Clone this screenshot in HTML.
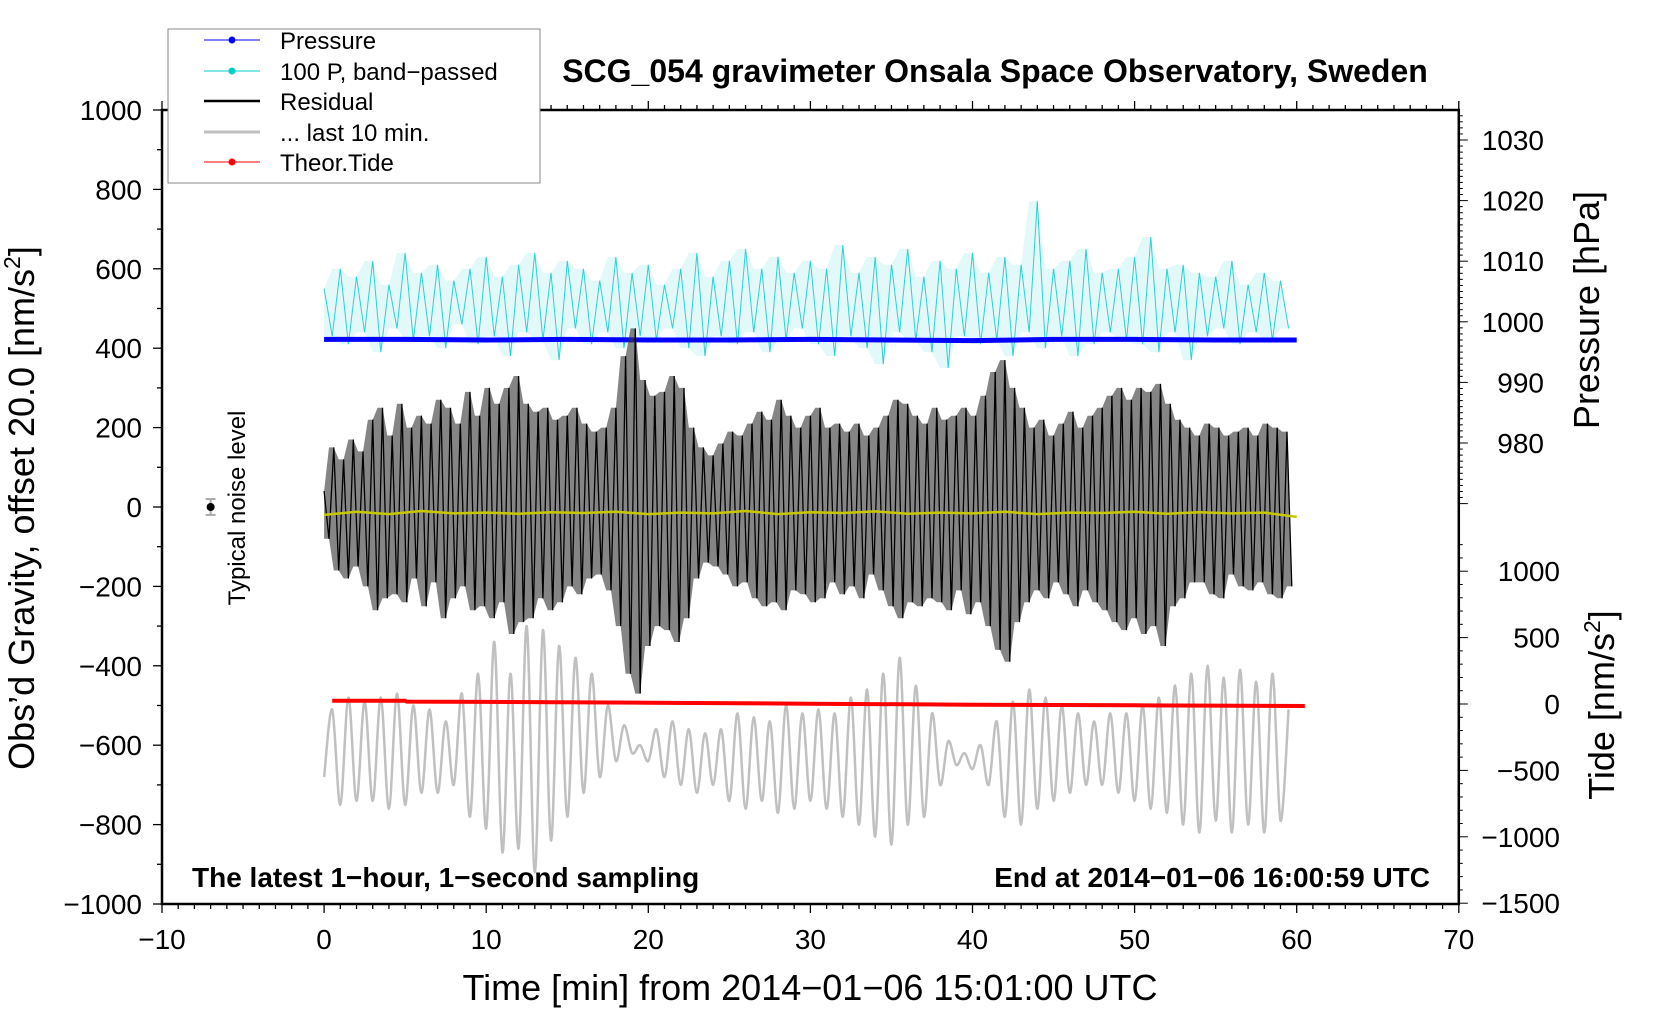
<!DOCTYPE html>
<html><head><meta charset="utf-8"><style>
html,body{margin:0;padding:0;background:#fff}
svg{display:block;font-family:"Liberation Sans",sans-serif}
</style></head><body>
<svg id="chart" width="1660" height="1020" viewBox="0 0 1660 1020" xmlns="http://www.w3.org/2000/svg">
<g id="marks"></g>
<g id="axes"></g>
<text x="995" y="82" font-size="32" font-weight="bold" text-anchor="middle">SCG_054 gravimeter Onsala Space Observatory, Sweden</text>
<text x="192" y="887" font-size="28" font-weight="bold">The latest 1−hour, 1−second sampling</text>
<text x="1430" y="887" font-size="28" font-weight="bold" text-anchor="end">End at 2014−01−06 16:00:59 UTC</text>
<text transform="translate(34,508) rotate(-90)" font-size="36" text-anchor="middle">Obs’d Gravity, offset 20.0 [nm/s<tspan dy="-14" font-size="23">2</tspan><tspan dy="14">]</tspan></text>
<text x="810" y="1000" font-size="36" text-anchor="middle">Time [min] from 2014−01−06 15:01:00 UTC</text>
<text transform="translate(1599,310) rotate(-90)" font-size="36" text-anchor="middle">Pressure [hPa]</text>
<text transform="translate(1614,705) rotate(-90)" font-size="36" text-anchor="middle">Tide [nm/s<tspan dy="-14" font-size="23">2</tspan><tspan dy="14">]</tspan></text>
<text transform="translate(245,508) rotate(-90)" font-size="24" text-anchor="middle">Typical noise level</text>
<g>
<rect x="168" y="29" width="372" height="154" fill="#fff" stroke="#888" stroke-width="1"/>
<g><line x1="204" y1="40" x2="260" y2="40" stroke="#0000ff" stroke-width="1"/><circle cx="232" cy="40" r="3.5" fill="#0000ff"/><text x="280" y="49" font-size="24">Pressure</text></g>
<g><line x1="204" y1="71" x2="260" y2="71" stroke="#00cccc" stroke-width="1"/><circle cx="232" cy="71" r="3.5" fill="#00cccc"/><text x="280" y="80" font-size="24">100 P, band−passed</text></g>
<g><line x1="204" y1="101" x2="260" y2="101" stroke="#000" stroke-width="2.5"/><text x="280" y="110" font-size="24">Residual</text></g>
<g><line x1="204" y1="132" x2="260" y2="132" stroke="#c0c0c0" stroke-width="3"/><text x="280" y="141" font-size="24">... last 10 min.</text></g>
<g><line x1="204" y1="162" x2="260" y2="162" stroke="#ff0000" stroke-width="1"/><circle cx="232" cy="162" r="3.5" fill="#ff0000"/><text x="280" y="171" font-size="24">Theor.Tide</text></g>
</g>
</svg>
<script>
const xTicks=[-10,0,10,20,30,40,50,60,70];
const yTicks=[1000,800,600,400,200,0,-200,-400,-600,-800,-1000];
const pTicks=[1030,1020,1010,1000,990,980];
const tTicks=[1000,500,0,-500,-1000,-1500];
const residual=[40,-80,150,-160,120,-180,170,-150,140,-200,
220,-260,250,-230,180,-220,260,-240,200,-180,
230,-250,210,-190,270,-280,250,-230,210,-200,
290,-260,230,-250,300,-280,260,-240,300,-320,
330,-290,260,-280,240,-230,250,-260,220,-240,
230,-200,250,-220,210,-180,190,-170,200,-210,
250,-300,380,-420,450,-470,320,-350,280,-300,
290,-310,330,-340,300,-280,200,-180,150,-140,
130,-150,160,-170,190,-200,180,-190,210,-230,
240,-250,220,-240,270,-260,230,-210,200,-220,
230,-240,250,-230,200,-190,210,-220,190,-200,
210,-230,180,-170,200,-210,230,-250,270,-280,
260,-240,230,-250,210,-230,250,-240,220,-260,
230,-210,250,-270,230,-240,280,-300,340,-360,
370,-390,300,-290,250,-240,200,-210,220,-230,
180,-190,210,-220,240,-250,200,-210,230,-240,
250,-260,280,-290,300,-310,270,-280,300,-320,
290,-300,310,-350,260,-250,220,-230,200,-190,
180,-190,210,-220,200,-230,180,-170,190,-200,
200,-210,180,-190,210,-220,200,-230,190,-200];
const residualDt=0.3;
const bandpassed=[550,430,600,410,580,440,620,390,560,450,640,420,590,430,610,400,570,460,600,410,
630,430,580,380,610,440,640,420,590,370,620,450,600,410,570,440,630,400,590,430,
610,420,560,450,600,400,640,380,580,430,620,410,650,440,600,390,630,420,590,450,
620,410,600,380,660,430,590,400,630,360,610,440,650,420,580,390,620,350,600,430,
640,410,590,420,630,380,610,440,770,400,600,430,620,380,650,410,590,440,600,420,
630,410,680,390,600,440,610,370,590,430,580,450,620,410,560,440,590,420,570,450];
const bandDt=0.5;
const pressureT=[0,5,10,15,20,25,30,35,40,45,50,55,60];
const pressure=[997.1,997.1,997.0,997.1,997.0,997.0,997.1,997.0,996.9,997.1,997.1,997.0,997.0];
const tideT=[0.5,5,5.1,10,20,30,40,50,60.5];
const tide=[25,25,18,16,10,2,-5,-10,-15];
const lastTen=[-680,-510,-750,-480,-740,-490,-740,-480,-760,-470,-750,-500,-720,-510,-720,-540,-700,-470,-780,-420,
-810,-340,-870,-420,-860,-300,-920,-310,-840,-350,-780,-380,-720,-420,-680,-500,-640,-550,-620,-600,
-640,-560,-680,-540,-700,-560,-720,-570,-700,-560,-740,-520,-760,-530,-740,-540,-770,-500,-760,-520,
-740,-510,-760,-520,-780,-480,-800,-460,-830,-420,-850,-380,-800,-450,-780,-520,-700,-590,-650,-620,
-660,-600,-700,-540,-780,-490,-800,-460,-760,-480,-740,-500,-720,-520,-700,-540,-700,-520,-720,-520,
-740,-500,-760,-480,-770,-450,-800,-420,-820,-400,-790,-430,-820,-410,-800,-440,-820,-420,-790,-510];
const lastTenDt=0.5;
const yellow=[-20,-12,-18,-10,-16,-14,-17,-13,-15,-12,-18,-14,-16,-10,-18,-13,-15,-11,-17,-14,-16,-12,-18,-14,-15,-12,-17,-13,-16,-14,-25];
const yellowDt=2;

const X=t=>162+(t+10)*16.21;
const Y=v=>507-v*0.397;
const YP=p=>140+(1030-p)*6.06;
const YT=v=>704-v*0.1328;
const NS='http://www.w3.org/2000/svg';
const marks=document.getElementById('marks'),axes=document.getElementById('axes');
function mk(tag,attrs,parent){const e=document.createElementNS(NS,tag);for(const k in attrs)e.setAttribute(k,attrs[k]);parent.appendChild(e);return e;}
function poly(pts){return pts.map((p,i)=>(i?'L':'M')+p[0].toFixed(1)+' '+p[1].toFixed(1)).join('');}
function catmull(pts){let d='M'+pts[0][0].toFixed(1)+' '+pts[0][1].toFixed(1);for(let i=0;i<pts.length-1;i++){const p0=pts[Math.max(0,i-1)],p1=pts[i],p2=pts[i+1],p3=pts[Math.min(pts.length-1,i+2)];const c1=[p1[0]+(p2[0]-p0[0])/6,p1[1]+(p2[1]-p0[1])/6],c2=[p2[0]-(p3[0]-p1[0])/6,p2[1]-(p3[1]-p1[1])/6];d+=' C'+c1[0].toFixed(1)+' '+c1[1].toFixed(1)+' '+c2[0].toFixed(1)+' '+c2[1].toFixed(1)+' '+p2[0].toFixed(1)+' '+p2[1].toFixed(1);}return d;}
function envelope(vals,dt,scale){const up=[],dn=[];vals.forEach((v,i)=>{const n=vals[Math.min(vals.length-1,i+1)];const hi=Math.max(v,n),lo=Math.min(v,n);up.push([X(i*dt),scale(hi)]);dn.push([X(i*dt),scale(lo)]);});return poly(up.concat(dn.reverse()))+'Z';}

let e;
e=mk('path',{d:catmull(lastTen.map((v,i)=>[X(i*lastTenDt),Y(v)])),fill:'none',stroke:'#c0c0c0','stroke-width':2.5},marks);


e=mk('path',{d:envelope(bandpassed,bandDt,Y),fill:'#40d0d0','fill-opacity':0.15,stroke:'none'},marks);


e=mk('path',{d:poly(bandpassed.map((v,i)=>[X(i*bandDt),Y(v)])),fill:'none',stroke:'#30d0d0','stroke-width':1},marks);


e=mk('path',{d:poly(pressure.map((v,i)=>[X(pressureT[i]),YP(v)])),fill:'none',stroke:'#0000ff','stroke-width':5},marks);


e=mk('path',{d:envelope(residual,residualDt,Y),fill:'#333','fill-opacity':0.6,stroke:'none'},marks);


e=mk('path',{d:poly(residual.map((v,i)=>[X(i*residualDt),Y(v)])),fill:'none',stroke:'#000','stroke-width':1.3},marks);


e=mk('path',{d:poly(yellow.map((v,i)=>[X(i*yellowDt),Y(v)])),fill:'none',stroke:'#c8c800','stroke-width':2.5},marks);


e=mk('path',{d:poly(tide.map((v,i)=>[X(tideT[i]),YT(v)])),fill:'none',stroke:'#ff0000','stroke-width':4},marks);


e=mk('line',{x1:X(-7),x2:X(-7),y1:Y(20),y2:Y(-20),stroke:'#aaa','stroke-width':2},marks);


mk('line',{x1:X(-7)-5,x2:X(-7)+5,y1:Y(20),y2:Y(20),stroke:'#aaa','stroke-width':2},marks);
mk('line',{x1:X(-7)-5,x2:X(-7)+5,y1:Y(-20),y2:Y(-20),stroke:'#aaa','stroke-width':2},marks);
e=mk('circle',{cx:X(-7),cy:Y(0),r:4,fill:'#000'},marks);



e=mk('rect',{x:X(-10),y:Y(1000),width:X(70)-X(-10),height:Y(-1000)-Y(1000),fill:'none',stroke:'#000','stroke-width':2.5},axes);


const yb=Y(-1000),yt=Y(1000),xr=X(70),xl=X(-10);
for(let t=-10;t<=70;t++){const L=t%10===0?9:5;mk('line',{x1:X(t),x2:X(t),y1:yb,y2:yb+L,stroke:'#000','stroke-width':1.3},axes);mk('line',{x1:X(t),x2:X(t),y1:yt,y2:yt-L,stroke:'#000','stroke-width':1.3},axes);}
xTicks.forEach(t=>{e=mk('text',{x:X(t),y:yb+45,'font-size':28,'text-anchor':'middle'},axes);e.textContent=String(t).replace('-','−');

});
for(let v=-1000;v<=1000;v+=100){mk('line',{x1:xl,x2:xl-(v%200===0?9:5),y1:Y(v),y2:Y(v),stroke:'#000','stroke-width':1.3},axes);}
yTicks.forEach(v=>{e=mk('text',{x:142,y:Y(v)+10,'font-size':28,'text-anchor':'end'},axes);e.textContent=String(v).replace('-','−');

});
for(let p=970;p<=1035;p++){const y=YP(p);if(y<yt||y>535)continue;mk('line',{x1:xr,x2:xr+(p%10===0?9:4),y1:y,y2:y,stroke:'#000','stroke-width':1},axes);}
pTicks.forEach(p=>{e=mk('text',{x:1544,y:YP(p)+10,'font-size':28,'text-anchor':'end'},axes);e.textContent=p;

});
for(let v=-1500;v<=1400;v+=100){const y=YT(v);if(y<540||y>yb)continue;mk('line',{x1:xr,x2:xr+(v%500===0?9:4),y1:y,y2:y,stroke:'#000','stroke-width':1},axes);}
tTicks.forEach(v=>{e=mk('text',{x:1560,y:YT(v)+10,'font-size':28,'text-anchor':'end'},axes);e.textContent=String(v).replace('-','−');

});
</script>
</body></html>
